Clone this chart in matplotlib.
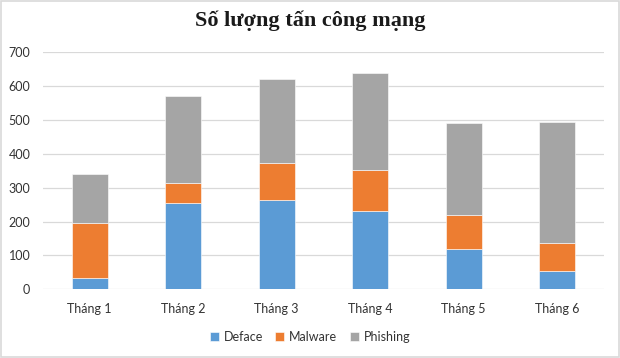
import numpy as np
import matplotlib.pyplot as plt
from matplotlib.patches import Rectangle

months = ["Tháng 1", "Tháng 2", "Tháng 3", "Tháng 4", "Tháng 5", "Tháng 6"]
deface = [32, 255, 265, 231, 119, 55]
malware = [164, 60, 109, 120, 100, 81]
phishing = [143, 257, 246, 289, 271, 357]

colors = {"Deface": "#5B9BD5", "Malware": "#ED7D31", "Phishing": "#A5A5A5"}
txt = "#333333"

fig = plt.figure(figsize=(6.2, 3.58), dpi=100)
ax = fig.add_axes([0.069, 0.192, 0.905, 0.662])

x = np.arange(len(months))
w = 0.385
bottom = np.zeros(len(months))
for name, vals in [("Deface", deface), ("Malware", malware), ("Phishing", phishing)]:
    ax.bar(x, vals, w, bottom=bottom, color=colors[name], label=name,
           edgecolor="white", linewidth=0.4, zorder=3)
    bottom += np.array(vals)

ax.set_xlim(-0.5, len(months) - 0.5)
ax.set_ylim(0, 700)
ax.set_yticks(range(0, 701, 100))
ax.set_xticks(x)
ax.set_xticklabels(months)
ax.grid(axis="y", color="#d9d9d9", linewidth=0.9, zorder=0)
for s in ax.spines.values():
    s.set_visible(False)
ax.tick_params(length=0, labelsize=9, labelcolor=txt)
ax.tick_params(axis="x", pad=10)
ax.tick_params(axis="y", pad=9)
for lab in ax.get_xticklabels() + ax.get_yticklabels():
    lab.set_family("Lato")

# title: Times-like bold, slightly condensed in the original
fig.suptitle("Số lượng tấn công mạng", family="Liberation Serif", fontweight="bold",
             fontsize=16, color="#1a1a1a", y=0.97)

leg = fig.legend(loc="center", bbox_to_anchor=(0.5, 0.058), ncol=3, frameon=False,
                 prop={"family": "Lato", "size": 9}, handlelength=0.7, handleheight=0.7,
                 handletextpad=0.4, columnspacing=1.0)
for t in leg.get_texts():
    t.set_color(txt)

fig.patches.append(Rectangle((0.001, 0.002), 0.997, 0.996, transform=fig.transFigure,
                             fill=False, edgecolor="#d9d9d9", linewidth=1.2))

fig.savefig("out.png", dpi=100)
